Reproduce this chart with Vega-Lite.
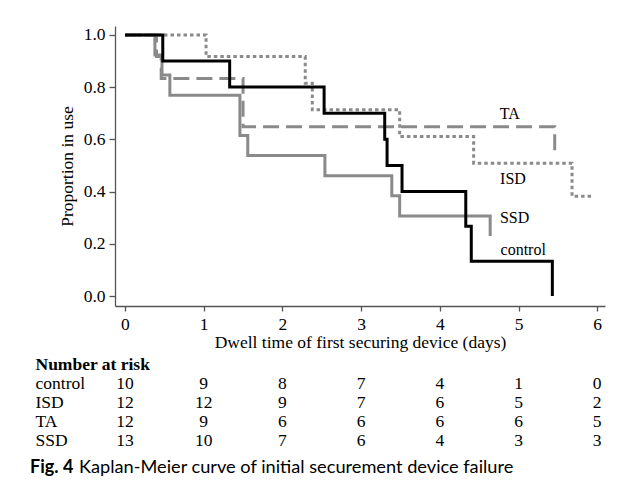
{
  "$schema": "https://vega.github.io/schema/vega-lite/v6.json",
  "padding": {"left": 30, "top": 25, "right": 5, "bottom": 5},
  "background": "white",
  "config": {
    "view": {"stroke": null},
    "font": "Liberation Serif",
    "axis": {
      "domainColor": "#555555", "tickColor": "#555555", "domainWidth": 1.3, "tickWidth": 1.3,
      "labelFont": "Liberation Serif", "labelFontSize": 17.5, "labelColor": "black",
      "titleFont": "Liberation Serif", "titleFontSize": 17.5, "titleFontWeight": "normal", "titleColor": "black",
      "grid": false, "tickSize": 5, "labelPadding": 4
    },
    "axisY": {"titlePadding": 7, "tickSize": 6},
    "axisX": {"titlePadding": 1, "labelFlush": false}
  },
  "datasets": {
    "km": [
      {"group": "ISD", "t": 0, "s": 1},
      {"group": "ISD", "t": 1.03, "s": 0.917},
      {"group": "ISD", "t": 2.29, "s": 0.815},
      {"group": "ISD", "t": 2.38, "s": 0.713},
      {"group": "ISD", "t": 3.49, "s": 0.611},
      {"group": "ISD", "t": 4.43, "s": 0.509},
      {"group": "ISD", "t": 5.68, "s": 0.382},
      {"group": "ISD", "t": 5.93, "s": 0.382},
      {"group": "TA", "t": 0, "s": 1},
      {"group": "TA", "t": 0.4, "s": 0.917},
      {"group": "TA", "t": 0.46, "s": 0.833},
      {"group": "TA", "t": 1.5, "s": 0.648},
      {"group": "TA", "t": 5.46, "s": 0.54},
      {"group": "SSD", "t": 0, "s": 1},
      {"group": "SSD", "t": 0.38, "s": 0.923},
      {"group": "SSD", "t": 0.47, "s": 0.846},
      {"group": "SSD", "t": 0.57, "s": 0.769},
      {"group": "SSD", "t": 1.46, "s": 0.615},
      {"group": "SSD", "t": 1.56, "s": 0.538},
      {"group": "SSD", "t": 2.54, "s": 0.461},
      {"group": "SSD", "t": 3.39, "s": 0.384},
      {"group": "SSD", "t": 3.49, "s": 0.307},
      {"group": "SSD", "t": 4.64, "s": 0.23},
      {"group": "control", "t": 0, "s": 1},
      {"group": "control", "t": 0.48, "s": 0.9},
      {"group": "control", "t": 1.33, "s": 0.8},
      {"group": "control", "t": 2.53, "s": 0.7},
      {"group": "control", "t": 3.3, "s": 0.6},
      {"group": "control", "t": 3.33, "s": 0.5},
      {"group": "control", "t": 3.52, "s": 0.4},
      {"group": "control", "t": 4.33, "s": 0.267},
      {"group": "control", "t": 4.4, "s": 0.133},
      {"group": "control", "t": 5.43, "s": 0}
    ],
    "labels": [
      {"group": "TA", "t": 4.89, "s": 0.697},
      {"group": "ISD", "t": 4.93, "s": 0.448},
      {"group": "SSD", "t": 4.95, "s": 0.299},
      {"group": "control", "t": 5.06, "s": 0.176}
    ],
    "risk": [
      {"group": "control", "t": 0, "n": 10}, {"group": "control", "t": 1, "n": 9}, {"group": "control", "t": 2, "n": 8}, {"group": "control", "t": 3, "n": 7}, {"group": "control", "t": 4, "n": 4}, {"group": "control", "t": 5, "n": 1}, {"group": "control", "t": 6, "n": 0},
      {"group": "ISD", "t": 0, "n": 12}, {"group": "ISD", "t": 1, "n": 12}, {"group": "ISD", "t": 2, "n": 9}, {"group": "ISD", "t": 3, "n": 7}, {"group": "ISD", "t": 4, "n": 6}, {"group": "ISD", "t": 5, "n": 5}, {"group": "ISD", "t": 6, "n": 2},
      {"group": "TA", "t": 0, "n": 12}, {"group": "TA", "t": 1, "n": 9}, {"group": "TA", "t": 2, "n": 6}, {"group": "TA", "t": 3, "n": 6}, {"group": "TA", "t": 4, "n": 6}, {"group": "TA", "t": 5, "n": 6}, {"group": "TA", "t": 6, "n": 5},
      {"group": "SSD", "t": 0, "n": 13}, {"group": "SSD", "t": 1, "n": 10}, {"group": "SSD", "t": 2, "n": 7}, {"group": "SSD", "t": 3, "n": 6}, {"group": "SSD", "t": 4, "n": 4}, {"group": "SSD", "t": 5, "n": 3}, {"group": "SSD", "t": 6, "n": 3}
    ]
  },
  "title": {
    "text": "Kaplan-Meier curve of initial securement device failure",
    "orient": "bottom", "anchor": "start", "frame": "bounds",
    "font": "Lato", "fontSize": 18.2, "fontWeight": "normal", "color": "black",
    "offset": 0, "dx": 49, "dy": -18
  },
  "spacing": 4,
  "resolve": {"scale": {"x": "independent", "y": "independent"}},
  "vconcat": [
    {
      "width": 490,
      "height": 280,
      "layer": [
        {
          "data": {"name": "km"},
          "mark": {"type": "line", "interpolate": "step-after", "strokeWidth": 3, "strokeCap": "butt"},
          "encoding": {
            "x": {
              "field": "t", "type": "quantitative",
              "scale": {"domain": [-0.127, 6.099], "nice": false, "zero": false},
              "axis": {"values": [0, 1, 2, 3, 4, 5, 6], "format": "d", "title": "Dwell time of first securing device (days)"}
            },
            "y": {
              "field": "s", "type": "quantitative",
              "scale": {"domain": [-0.038, 1.034], "nice": false, "zero": false},
              "axis": {"values": [0, 0.2, 0.4, 0.6, 0.8, 1], "format": ".1f", "title": "Proportion in use"}
            },
            "color": {
              "field": "group", "type": "nominal",
              "scale": {"domain": ["control", "ISD", "TA", "SSD"], "range": ["#000000", "#8a8a8a", "#8a8a8a", "#8a8a8a"]},
              "legend": null
            },
            "strokeDash": {
              "field": "group", "type": "nominal",
              "scale": {"domain": ["control", "ISD", "TA", "SSD"], "range": [[1, 0], [3.5, 3], [16, 7], [1, 0]]},
              "legend": null
            }
          }
        },
        {
          "data": {"name": "labels"},
          "mark": {"type": "text", "font": "Liberation Serif", "fontSize": 16, "color": "black", "align": "center", "baseline": "middle"},
          "encoding": {
            "x": {"field": "t", "type": "quantitative"},
            "y": {"field": "s", "type": "quantitative"},
            "text": {"field": "group"}
          }
        }
      ]
    },
    {
      "width": 490,
      "height": 95,
      "data": {"name": "risk"},
      "title": {
        "text": "Fig. 4", "orient": "bottom", "anchor": "start", "frame": "bounds",
        "font": "Lato", "fontSize": 18, "fontWeight": "bold", "color": "black", "offset": 9, "dx": -5
      },
      "mark": {"type": "text", "font": "Liberation Serif", "fontSize": 17.5, "color": "black", "align": "center", "baseline": "middle"},
      "encoding": {
        "x": {
          "field": "t", "type": "quantitative",
          "scale": {"domain": [-0.127, 6.099], "nice": false, "zero": false},
          "axis": null
        },
        "y": {
          "field": "group", "type": "nominal",
          "scale": {"type": "point", "domain": ["Number at risk", "control", "ISD", "TA", "SSD"], "padding": 0.5},
          "axis": {
            "title": null, "domain": false, "ticks": false,
            "labelAlign": "left", "labelPadding": 80, "labelFontSize": 17.5,
            "labelFont": "Liberation Serif", "labelColor": "black",
            "labelFontWeight": {"condition": {"test": "datum.value === 'Number at risk'", "value": "bold"}, "value": "normal"}
          }
        },
        "text": {"field": "n", "type": "quantitative"}
      }
    }
  ]
}
